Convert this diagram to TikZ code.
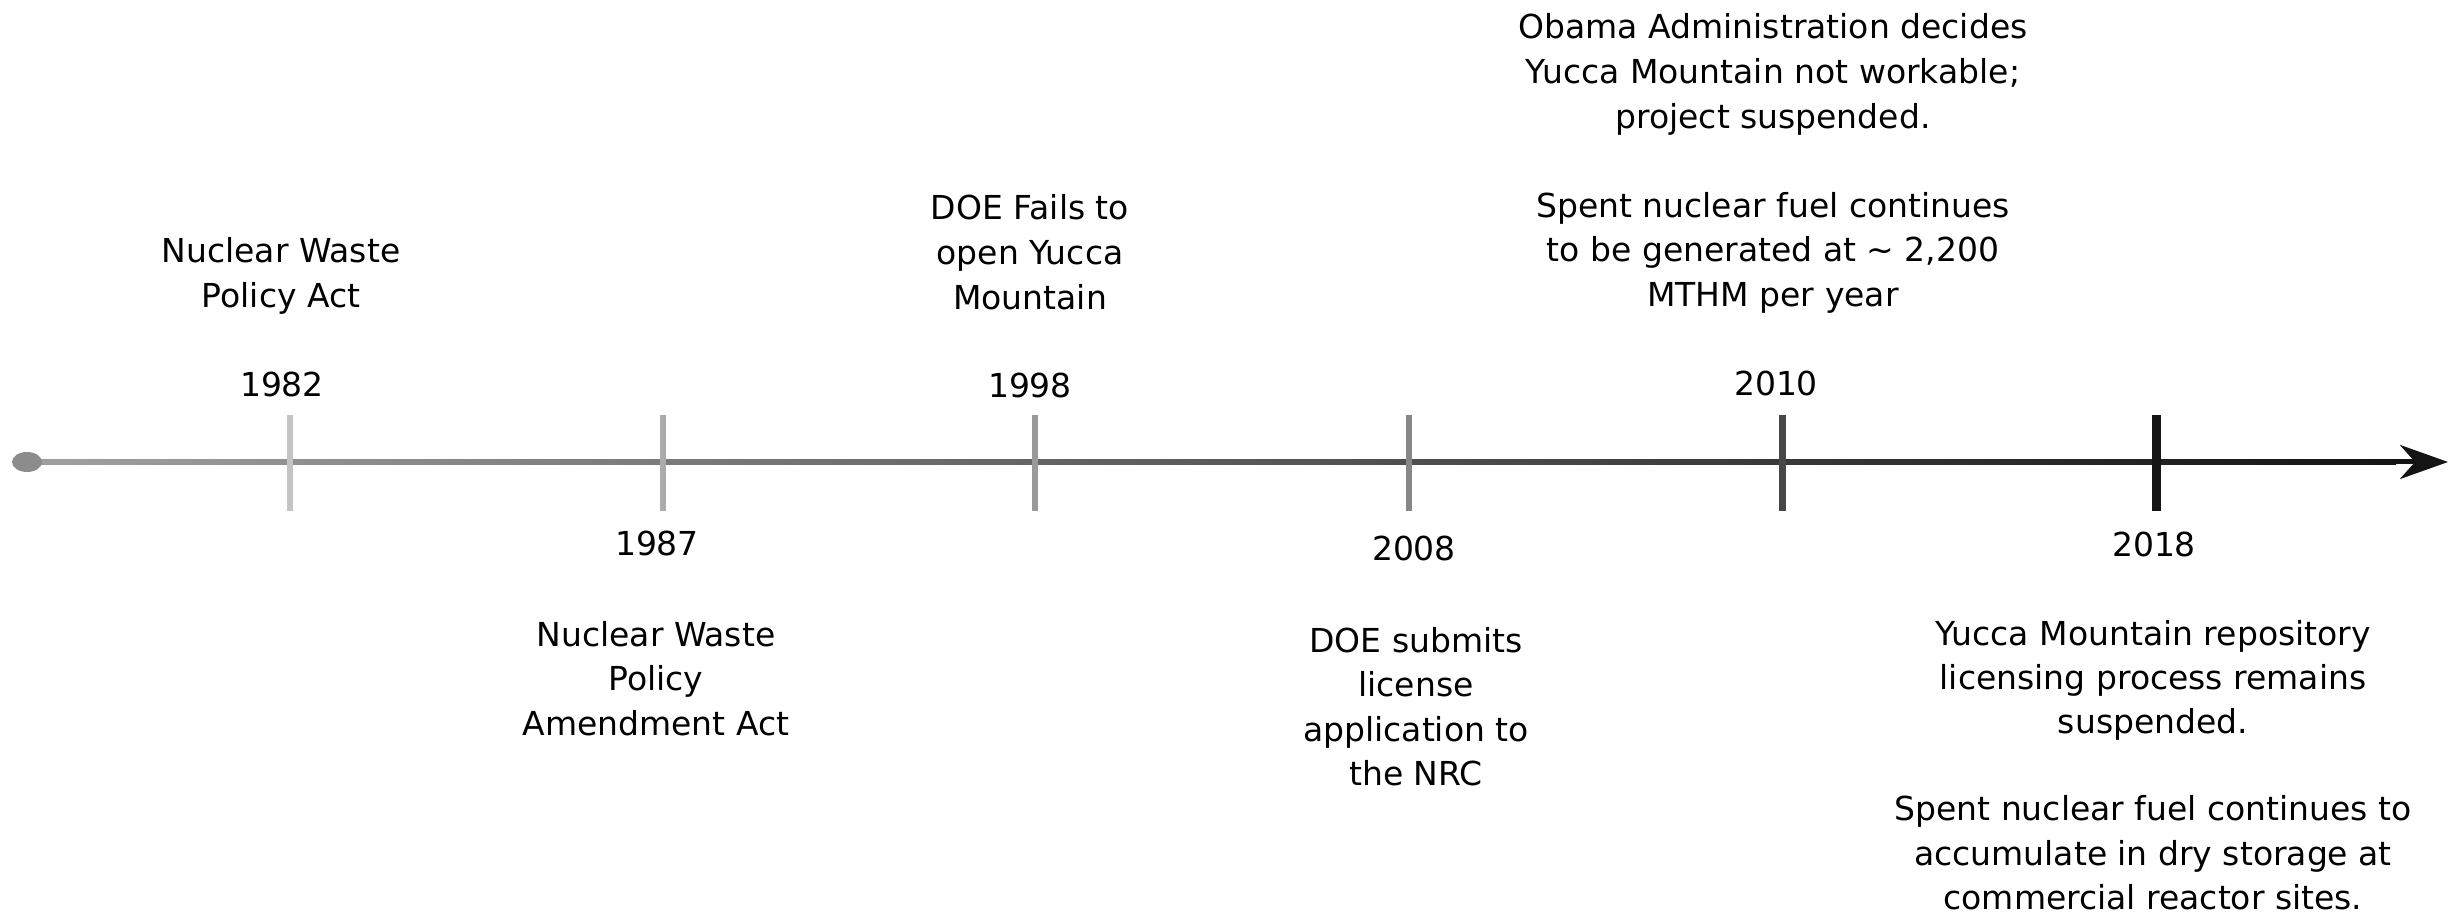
\documentclass[tikz,border=0pt]{standalone}
\usepackage{fontspec}
\setmainfont{DejaVu Sans}
\usetikzlibrary{arrows.meta}
\definecolor{axisL}{HTML}{A0A0A0}
\definecolor{axisM}{HTML}{7A7A7A}
\definecolor{axisR}{HTML}{141414}
\definecolor{dotc}{HTML}{8C8C8C}
\definecolor{tkA}{HTML}{C4C4C4}
\definecolor{tkB}{HTML}{ACACAC}
\definecolor{tkC}{HTML}{9A9A9A}
\definecolor{tkD}{HTML}{878787}
\definecolor{tkE}{HTML}{474747}
\definecolor{tkF}{HTML}{151515}
\newcommand{\mlines}[1]{\begin{tabular}[t]{@{}c@{}}#1\end{tabular}}
\begin{document}
\begin{tikzpicture}[x=0.5pt,y=-0.5pt,
  lbl/.style={anchor=base,inner sep=0pt,font=\fontsize{16.5}{22.3}\selectfont},
  tightlbl/.style={lbl,font=\fontsize{16.5}{22}\selectfont},
  tickline/.style={line width=3pt}]
\useasboundingbox (0,0) rectangle (2453,919);
% axis
\coordinate (start) at (27,462);
\coordinate (bodyend) at (2395,462);
\coordinate (end) at (2448,462);
\shade[left color=axisL, middle color=axisM, right color=axisR] (27,459.5) rectangle (2396,464.5);
\draw[line width=2.5pt, axisR, -{Stealth[length=24pt,width=17pt,inset=7.5pt]}] (bodyend) -- (end);
\fill[dotc] (start) ellipse [x radius=7.5pt, y radius=5pt];
% ticks
\coordinate (t1a) at (290,415); \coordinate (t1b) at (290,511);
\coordinate (t2a) at (663,415); \coordinate (t2b) at (663,511);
\coordinate (t3a) at (1035,415); \coordinate (t3b) at (1035,511);
\coordinate (t4a) at (1409,415); \coordinate (t4b) at (1409,511);
\coordinate (t5a) at (1782,415); \coordinate (t5b) at (1782,511);
\coordinate (t6a) at (2156,415); \coordinate (t6b) at (2156,511);
\draw[tickline, tkA] (t1a) -- (t1b);
\draw[tickline, tkB] (t2a) -- (t2b);
\draw[tickline, tkC] (t3a) -- (t3b);
\draw[tickline, tkD] (t4a) -- (t4b);
\draw[tickline, tkE, line width=3.5pt] (t5a) -- (t5b);
\draw[tickline, tkF, line width=4.5pt] (t6a) -- (t6b);
% years
\node[lbl] (y1982) at (282,397) {1982};
\node[lbl] (y1987) at (657,555) {1987};
\node[lbl] (y1998) at (1030,398) {1998};
\node[lbl] (y2008) at (1414,560) {2008};
\node[lbl] (y2010) at (1776,396) {2010};
\node[lbl] (y2018) at (2154,556) {2018};
% descriptions
\node[lbl] (d1982) at (281,263) {\mlines{Nuclear Waste\\Policy Act}};
\node[lbl] (d1987) at (656,646) {\mlines{Nuclear Waste\\Policy\\Amendment Act}};
\node[lbl] (d1998) at (1030,220) {\mlines{DOE Fails to\\open Yucca\\Mountain}};
\node[lbl] (d2008) at (1416,652) {\mlines{DOE submits\\license\\application to\\the NRC}};
\node[lbl] (d2010) at (1773,39) {\mlines{Obama Administration decides\\Yucca Mountain not workable;\\project suspended.\\ \\Spent nuclear fuel continues\\to be generated at \textasciitilde{} 2,200\\MTHM per year}};
\node[tightlbl] (d2018) at (2153,645) {\mlines{Yucca Mountain repository\\licensing process remains\\suspended.\\ \\Spent nuclear fuel continues to\\accumulate in dry storage at\\commercial reactor sites.}};
\end{tikzpicture}
\end{document}
